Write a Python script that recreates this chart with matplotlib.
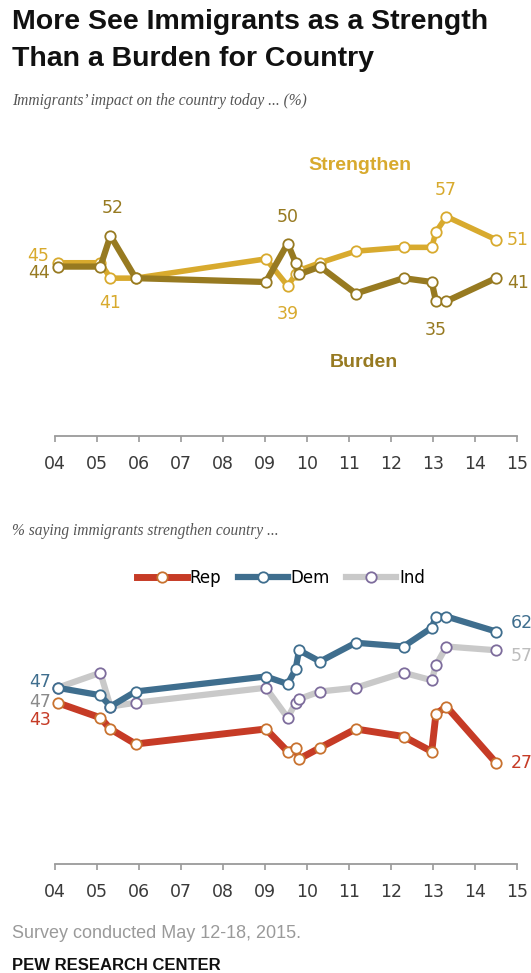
import matplotlib.pyplot as plt

# figure size in pixels
W, H = 531, 973

# survey dates (decimal years) shared by both panels
dates = [2004.06, 2005.08, 2005.32, 2005.92, 2009.02, 2009.54, 2009.73, 2009.81,
         2010.31, 2011.16, 2012.30, 2012.97, 2013.07, 2013.32, 2014.50]

# top panel: immigrants' impact on the country
strengthen = [45, 45, 41, 41, 46, 39, 42, 43, 45, 48, 49, 49, 53, 57, 51]
burden = [44, 44, 52, 41, 40, 50, 45, 42, 44, 37, 41, 40, 35, 35, 41]

# bottom panel: % saying immigrants strengthen country, by party
rep = [43, 39, 36, 32, 36, 30, 31, 28, 31, 36, 34, 30, 40, 42, 27]
dem = [47, 45, 42, 46, 50, 48, 52, 57, 54, 59, 58, 63, 66, 66, 62]
ind = [47, 51, 42, 43, 47, 39, 43, 44, 46, 47, 51, 49, 53, 58, 57]

year_ticks = list(range(2004, 2016))
year_labels = ["04", "05", "06", "07", "08", "09", "10", "11", "12", "13", "14", "15"]

GOLD_LIGHT = "#D8AA2E"
GOLD_DARK = "#977A21"
RED = "#C63B26"
BLUE = "#3F6E8E"
GRAY = "#C9C9C9"

fig = plt.figure(figsize=(W / 100, H / 100), dpi=100)
fig.patch.set_facecolor("white")


def add_axes_px(left, top, right, bottom):
    return fig.add_axes([left / W, 1 - bottom / H, (right - left) / W, (bottom - top) / H])


def fig_text(x, y, s, **kw):
    fig.text(x / W, 1 - y / H, s, **kw)


def style_axis(ax):
    ax.set_xlim(2004, 2015)
    ax.set_ylim(0, 70)
    for side in ["top", "left", "right"]:
        ax.spines[side].set_visible(False)
    ax.spines["bottom"].set_color("#9a9a9a")
    ax.spines["bottom"].set_linewidth(1.3)
    ax.set_yticks([])
    ax.set_xticks(year_ticks)
    ax.set_xticklabels(year_labels, fontsize=12.5, color="#3a3a3a", family="DejaVu Sans")
    ax.tick_params(axis="x", direction="out", length=4, width=1.2, color="#9a9a9a", pad=9.5)
    ax.patch.set_alpha(0)


def draw_line(ax, y, color, edge, lw, z):
    ax.plot(dates, y, color=color, lw=lw, marker="o", markersize=7.5,
            markerfacecolor="white", markeredgecolor=edge, markeredgewidth=1.3,
            solid_capstyle="round", solid_joinstyle="round", zorder=z, clip_on=False)


def label(ax, x, y, dx, dy, color, ha="center", va="center"):
    ax.annotate(str(y), xy=(x, y), xytext=(dx * 0.72, dy * 0.72), textcoords="offset points",
                ha=ha, va=va, fontsize=12.5, color=color, family="DejaVu Sans")


# titles
fig_text(12, 22, "More See Immigrants as a Strength", fontsize=20.5, fontweight="bold",
         family="Liberation Sans", color="#111111", va="center")
fig_text(12, 59, "Than a Burden for Country", fontsize=20.5, fontweight="bold",
         family="Liberation Sans", color="#111111", va="center")
fig_text(12, 101, "Immigrants\u2019 impact on the country today ... (%)", fontsize=11.2,
         style="italic", family="Liberation Serif", color="#555555", va="center")

# top panel
ax1 = add_axes_px(55, 436 - 70 * 3.85, 517, 436)
style_axis(ax1)
draw_line(ax1, strengthen, GOLD_LIGHT, GOLD_LIGHT, 4.0, 3)
draw_line(ax1, burden, GOLD_DARK, GOLD_DARK, 4.5, 4)

label(ax1, dates[0], strengthen[0], -8, 7, GOLD_LIGHT, ha="right")
label(ax1, dates[0], burden[0], -8, -6, GOLD_DARK, ha="right")
label(ax1, dates[2], burden[2], 2, 28, GOLD_DARK)
label(ax1, dates[2], strengthen[2], 0, -25, GOLD_LIGHT)
label(ax1, dates[5], burden[5], 0, 26, GOLD_DARK)
label(ax1, dates[5], strengthen[5], 0, -28, GOLD_LIGHT)
label(ax1, dates[12], burden[12], 0, -29, GOLD_DARK)
label(ax1, dates[13], strengthen[13], -1, 27, GOLD_LIGHT)
label(ax1, dates[-1], strengthen[-1], 11, 0, GOLD_LIGHT, ha="left")
label(ax1, dates[-1], burden[-1], 11, -5, GOLD_DARK, ha="left")

ax1.text(2011.26, 70.3, "Strengthen", fontsize=14, fontweight="bold", color=GOLD_LIGHT,
         family="Liberation Sans", ha="center", va="center")
ax1.text(2011.36, 19.2, "Burden", fontsize=14, fontweight="bold", color=GOLD_DARK,
         family="Liberation Sans", ha="center", va="center")

# bottom panel
fig_text(12, 531, "% saying immigrants strengthen country ...", fontsize=11.2,
         style="italic", family="Liberation Serif", color="#555555", va="center")

ax2 = add_axes_px(55, 864 - 70 * 3.75, 517, 864)
style_axis(ax2)
draw_line(ax2, ind, GRAY, "#7D6C9C", 4.5, 3)
draw_line(ax2, dem, BLUE, BLUE, 4.5, 4)
draw_line(ax2, rep, RED, "#C8722F", 5.0, 5)

label(ax2, dates[0], dem[0], -6, 6, BLUE, ha="right")
label(ax2, dates[0], ind[0], -6, -14, "#8a8a8a", ha="right")
label(ax2, dates[0], rep[0], -6, -17, RED, ha="right")
label(ax2, dates[-1], dem[-1], 15, 9, BLUE, ha="left")
label(ax2, dates[-1], ind[-1], 15, -6, "#bdbdbd", ha="left")
label(ax2, dates[-1], rep[-1], 15, 0, RED, ha="left")

# legend
handles = []
for name, color, edge, lw in [("Rep", RED, "#C8722F", 5.0), ("Dem", BLUE, BLUE, 4.5),
                              ("Ind", GRAY, "#7D6C9C", 4.5)]:
    h, = ax2.plot([], [], color=color, lw=lw, marker="o", markersize=7.5,
                  markerfacecolor="white", markeredgecolor=edge, markeredgewidth=1.3)
    handles.append(h)
fig.legend(handles, ["Rep", "Dem", "Ind"], loc="center", bbox_to_anchor=(281 / W, 1 - 578 / H),
           ncol=3, frameon=False, handlelength=3.0, handletextpad=0.15, columnspacing=1.0,
           numpoints=1, prop={"family": "DejaVu Sans", "size": 12})

# footer
fig_text(12, 934, "Survey conducted May 12-18, 2015.", fontsize=13, color="#9a9a9a",
         family="Liberation Sans", va="center")
fig_text(12, 966, "PEW RESEARCH CENTER", fontsize=12, fontweight="bold", color="#111111",
         family="Liberation Sans", va="center")

fig.savefig("out.png", dpi=100, facecolor="white")
